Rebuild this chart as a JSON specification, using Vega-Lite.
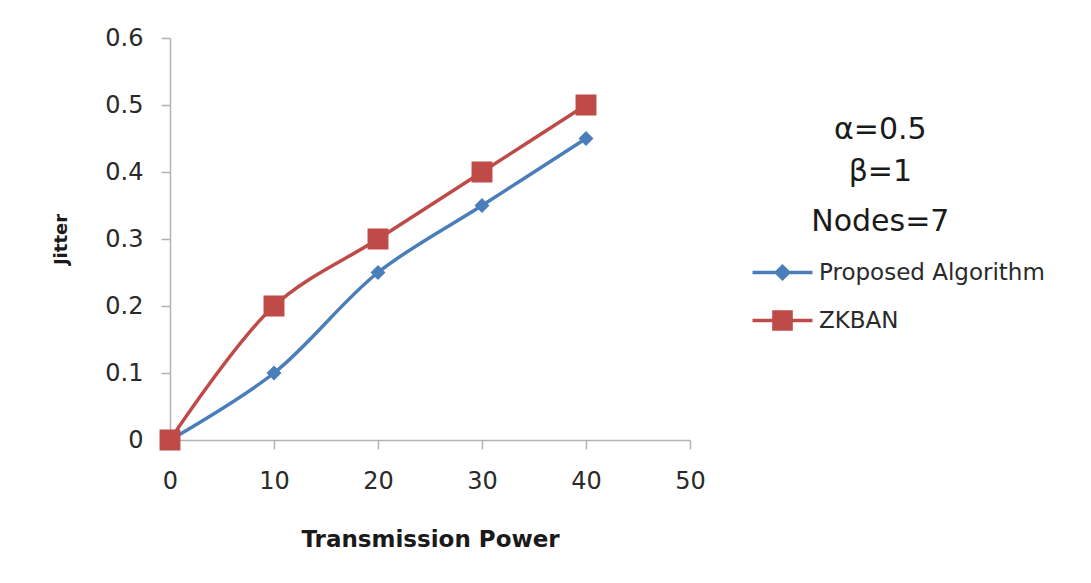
{
  "$schema": "https://vega.github.io/schema/vega-lite/v6.json",
  "width": 520,
  "height": 402,
  "autosize": {"type": "none"},
  "padding": {"left": 170, "top": 38, "right": 401, "bottom": 143},
  "background": "white",
  "config": {
    "view": {"stroke": null},
    "font": "DejaVu Sans",
    "axis": {
      "grid": false,
      "domainColor": "#b3b3b3",
      "domainWidth": 1.5,
      "tickColor": "#b3b3b3",
      "tickWidth": 1.5,
      "tickSize": 9,
      "labelFont": "DejaVu Sans",
      "labelFontSize": 24,
      "labelColor": "#2a2a2a",
      "labelFlush": false,
      "titleFont": "DejaVu Sans",
      "titleFontWeight": "bold",
      "titleColor": "#1a1a1a"
    }
  },
  "data": {
    "values": [
      {"power": 0, "jitter": 0, "series": "Proposed Algorithm"},
      {"power": 10, "jitter": 0.1, "series": "Proposed Algorithm"},
      {"power": 20, "jitter": 0.25, "series": "Proposed Algorithm"},
      {"power": 30, "jitter": 0.35, "series": "Proposed Algorithm"},
      {"power": 40, "jitter": 0.45, "series": "Proposed Algorithm"},
      {"power": 0, "jitter": 0, "series": "ZKBAN"},
      {"power": 10, "jitter": 0.2, "series": "ZKBAN"},
      {"power": 20, "jitter": 0.3, "series": "ZKBAN"},
      {"power": 30, "jitter": 0.4, "series": "ZKBAN"},
      {"power": 40, "jitter": 0.5, "series": "ZKBAN"}
    ]
  },
  "encoding": {
    "x": {
      "field": "power", "type": "quantitative",
      "scale": {"domain": [0, 50], "nice": false},
      "axis": {"values": [0, 10, 20, 30, 40, 50], "format": "d", "title": "Transmission Power", "titleFontSize": 23, "labelPadding": 20, "titlePadding": 35}
    },
    "y": {
      "field": "jitter", "type": "quantitative",
      "scale": {"domain": [0, 0.6], "nice": false},
      "axis": {"values": [0, 0.1, 0.2, 0.3, 0.4, 0.5, 0.6], "format": ".1~f", "title": "Jitter", "titleFontSize": 18, "labelPadding": 18, "titlePadding": 34}
    },
    "color": {
      "field": "series", "type": "nominal",
      "scale": {"domain": ["Proposed Algorithm", "ZKBAN"], "range": ["#4a7ebb", "#be4b48"]},
      "legend": {
        "title": null,
        "orient": "none",
        "legendX": 601,
        "legendY": 223,
        "padding": 0,
        "symbolSize": 324,
        "symbolStrokeWidth": 3.5,
        "labelOffset": 25,
        "labelLimit": 400,
        "labelFont": "DejaVu Sans",
        "labelFontSize": 23,
        "labelColor": "#2a2a2a",
        "rowPadding": 18,
        "encode": {
          "symbols": {"update": {"stroke": {"scale": "color", "field": "value"}, "strokeWidth": {"value": 3.5}, "fill": {"scale": "color", "field": "value"}}}
        }
      }
    }
  },
  "layer": [
    {
      "mark": {"type": "line", "interpolate": "catmull-rom", "strokeWidth": 3.5}
    },
    {
      "mark": {"type": "point", "filled": true, "opacity": 1, "size": 484, "strokeWidth": 0},
      "encoding": {
        "shape": {
          "field": "series", "type": "nominal",
          "scale": {
            "domain": ["Proposed Algorithm", "ZKBAN"],
            "range": [
              "M-3.33,0H3.33M0,-0.68L0.68,0L0,0.68L-0.68,0Z",
              "M-3.33,0H3.33M-0.95,-0.95H0.95V0.95H-0.95Z"
            ]
          }
        }
      }
    },
    {
      "data": {
        "values": [
          {"label": "α=0.5", "px": 68.3, "py": 0.463},
          {"label": "β=1", "px": 68.3, "py": 0.4},
          {"label": "Nodes=7", "px": 68.3, "py": 0.326}
        ]
      },
      "mark": {"type": "text", "font": "DejaVu Sans", "fontSize": 30, "color": "#1a1a1a", "align": "center", "baseline": "middle"},
      "encoding": {
        "x": {"field": "px", "type": "quantitative"},
        "y": {"field": "py", "type": "quantitative"},
        "text": {"field": "label", "type": "nominal"},
        "color": {"value": "#1a1a1a"}
      }
    }
  ]
}
